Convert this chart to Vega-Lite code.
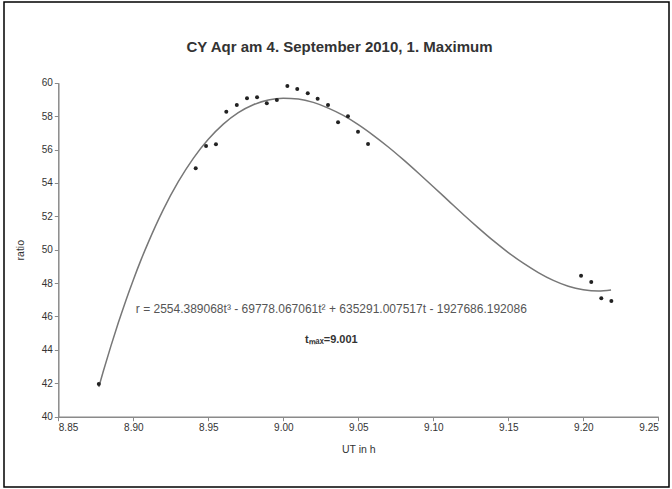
{
  "$schema": "https://vega.github.io/schema/vega-lite/v6.json",
  "width": 665,
  "height": 485,
  "autosize": "none",
  "padding": {"left": 4, "top": 2, "right": 3, "bottom": 2},
  "background": "white",
  "config": {
    "view": {"stroke": "black", "strokeWidth": 1.5},
    "font": "Liberation Sans"
  },
  "title": {
    "text": "CY Aqr am 4. September 2010, 1. Maximum",
    "fontSize": 15,
    "fontWeight": "bold",
    "color": "#333333",
    "anchor": "middle",
    "offset": -53,
    "dx": 3
  },
  "datasets": {
    "obs": [
      {"t": 8.877, "r": 41.96},
      {"t": 8.9416, "r": 54.87},
      {"t": 8.9485, "r": 56.21},
      {"t": 8.9551, "r": 56.31},
      {"t": 8.962, "r": 58.26},
      {"t": 8.969, "r": 58.66},
      {"t": 8.9758, "r": 59.07},
      {"t": 8.9825, "r": 59.13},
      {"t": 8.989, "r": 58.77},
      {"t": 8.9957, "r": 58.96},
      {"t": 9.0027, "r": 59.8},
      {"t": 9.0093, "r": 59.62},
      {"t": 9.0163, "r": 59.37},
      {"t": 9.0229, "r": 59.04},
      {"t": 9.0298, "r": 58.66},
      {"t": 9.0365, "r": 57.63},
      {"t": 9.0431, "r": 57.99},
      {"t": 9.0498, "r": 57.07},
      {"t": 9.0565, "r": 56.33},
      {"t": 9.1985, "r": 48.44},
      {"t": 9.2053, "r": 48.07},
      {"t": 9.212, "r": 47.1},
      {"t": 9.2187, "r": 46.93}
    ],
    "fit": [
      {"t": 8.877, "r": 41.78},
      {"t": 8.88, "r": 42.72},
      {"t": 8.885, "r": 44.21},
      {"t": 8.89, "r": 45.62},
      {"t": 8.895, "r": 46.95},
      {"t": 8.9, "r": 48.19},
      {"t": 8.905, "r": 49.36},
      {"t": 8.91, "r": 50.44},
      {"t": 8.92, "r": 52.4},
      {"t": 8.93, "r": 54.07},
      {"t": 8.94, "r": 55.47},
      {"t": 8.95, "r": 56.61},
      {"t": 8.96, "r": 57.52},
      {"t": 8.97, "r": 58.21},
      {"t": 8.98, "r": 58.68},
      {"t": 8.99, "r": 58.97},
      {"t": 9.0, "r": 59.07},
      {"t": 9.01, "r": 59.02},
      {"t": 9.02, "r": 58.82},
      {"t": 9.03, "r": 58.48},
      {"t": 9.04, "r": 58.04},
      {"t": 9.05, "r": 57.49},
      {"t": 9.06, "r": 56.85},
      {"t": 9.07, "r": 56.15},
      {"t": 9.08, "r": 55.39},
      {"t": 9.09, "r": 54.59},
      {"t": 9.1, "r": 53.77},
      {"t": 9.11, "r": 52.94},
      {"t": 9.12, "r": 52.11},
      {"t": 9.13, "r": 51.31},
      {"t": 9.14, "r": 50.54},
      {"t": 9.15, "r": 49.83},
      {"t": 9.16, "r": 49.19},
      {"t": 9.17, "r": 48.63},
      {"t": 9.18, "r": 48.16},
      {"t": 9.19, "r": 47.81},
      {"t": 9.2, "r": 47.6},
      {"t": 9.21, "r": 47.52},
      {"t": 9.2185, "r": 47.58}
    ],
    "equation": [
      {"t": 9.032, "r": 46.45, "label": "r = 2554.389068t³ - 69778.067061t² + 635291.007517t - 1927686.192086"}
    ],
    "tmax": [
      {"t": 9.032, "r": 44.6, "label": "tₘₐₓ=9.001"}
    ]
  },
  "encoding": {
    "x": {
      "field": "t",
      "type": "quantitative",
      "scale": {"domain": [8.85, 9.25], "range": [54.3, 654.3], "nice": false, "zero": false},
      "axis": {
        "orient": "bottom",
        "offset": -70.3,
        "values": [8.85, 8.9, 8.95, 9.0, 9.05, 9.1, 9.15, 9.2, 9.25],
        "format": ".2f",
        "title": "UT in h",
        "grid": false,
        "domainColor": "#8a8a8a",
        "domainWidth": 1.5,
        "tickColor": "#8a8a8a",
        "tickSize": 4,
        "labelFontSize": 10,
        "labelColor": "#333333",
        "labelPadding": 2,
        "titleFontSize": 10.5,
        "titleFontWeight": "normal",
        "titleColor": "#333333",
        "titlePadding": 12
      }
    },
    "y": {
      "field": "r",
      "type": "quantitative",
      "scale": {"domain": [40, 60], "range": [414.7, 80.7], "nice": false, "zero": false},
      "axis": {
        "orient": "left",
        "offset": -54.3,
        "values": [40, 42, 44, 46, 48, 50, 52, 54, 56, 58, 60],
        "title": "ratio",
        "grid": false,
        "domainColor": "#8a8a8a",
        "domainWidth": 1.5,
        "tickColor": "#8a8a8a",
        "tickSize": 4,
        "labelFontSize": 10,
        "labelColor": "#333333",
        "labelPadding": 2,
        "titleFontSize": 10.5,
        "titleFontWeight": "normal",
        "titleColor": "#333333",
        "titlePadding": 16
      }
    }
  },
  "layer": [
    {
      "data": {"name": "fit"},
      "mark": {"type": "line", "color": "#777777", "strokeWidth": 1.5, "interpolate": "monotone"}
    },
    {
      "data": {"name": "obs"},
      "mark": {"type": "point", "filled": true, "size": 16, "color": "#222222", "opacity": 1}
    },
    {
      "data": {"name": "equation"},
      "mark": {"type": "text", "fontSize": 12, "color": "#555555", "align": "center", "baseline": "middle"},
      "encoding": {"text": {"field": "label"}}
    },
    {
      "data": {"name": "tmax"},
      "mark": {"type": "text", "fontSize": 11, "fontWeight": "bold", "color": "#333333", "align": "center", "baseline": "middle"},
      "encoding": {"text": {"field": "label"}}
    }
  ]
}
